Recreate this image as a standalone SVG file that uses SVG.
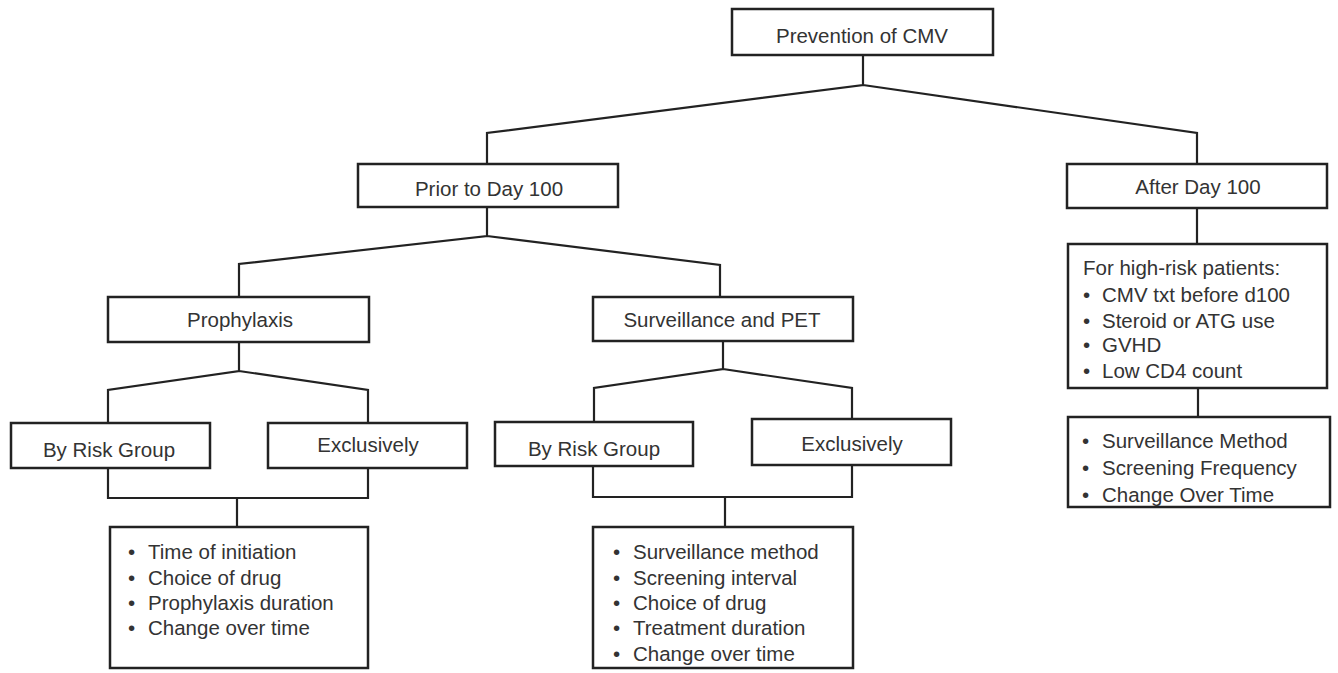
<svg xmlns="http://www.w3.org/2000/svg" width="1338" height="673" viewBox="0 0 1338 673">
<style>
.box{fill:#fff;stroke:#222;stroke-width:2.5}
.t{font-family:"Liberation Sans",Arial,sans-serif;font-size:20.5px;fill:#333}
.c{text-anchor:middle}
.ln{fill:none;stroke:#222;stroke-width:2.2;stroke-linejoin:miter}
</style>
<rect width="1338" height="673" fill="#fff"/>
<g id="connectors">
<path class="ln" d="M863 55 V85 L487 133 V164 M863 85 L1197 133 V164"/>
<path class="ln" d="M487 207 V236 L239 264 V297 M487 236 L720 265 V297"/>
<path class="ln" d="M239 342 V371 L108 390 V423 M239 371 L368 390 V423"/>
<path class="ln" d="M723 341 V369 L594 388 V422 M723 369 L852 388 V419"/>
<path class="ln" d="M108 468 V498 H368 V468 M237 498 V527"/>
<path class="ln" d="M593 466 V497 H852 V465 M725 497 V527"/>
<path class="ln" d="M1197 208 V244 M1198 388 V417"/>
</g>
<g id="n-prevention">
<rect class="box" x="732" y="9" width="261" height="46"/>
<text class="t c" x="862" y="43">Prevention of CMV</text>
</g>
<g id="n-prior">
<rect class="box" x="358" y="164" width="260" height="43"/>
<text class="t c" x="489" y="196">Prior to Day 100</text>
</g>
<g id="n-after">
<rect class="box" x="1067" y="164" width="260" height="44"/>
<text class="t c" x="1198" y="194">After Day 100</text>
</g>
<g id="n-prophylaxis">
<rect class="box" x="108" y="297" width="261" height="45"/>
<text class="t c" x="240" y="327">Prophylaxis</text>
</g>
<g id="n-surveillance">
<rect class="box" x="593" y="297" width="260" height="44"/>
<text class="t c" x="722" y="327">Surveillance and PET</text>
</g>
<g id="n-brg-left">
<rect class="box" x="11" y="423" width="199" height="45"/>
<text class="t c" x="109" y="457">By Risk Group</text>
</g>
<g id="n-excl-left">
<rect class="box" x="268" y="423" width="199" height="45"/>
<text class="t c" x="368" y="452">Exclusively</text>
</g>
<g id="n-brg-mid">
<rect class="box" x="495" y="422" width="198" height="44"/>
<text class="t c" x="594" y="456">By Risk Group</text>
</g>
<g id="n-excl-mid">
<rect class="box" x="752" y="419" width="199" height="46"/>
<text class="t c" x="852" y="451">Exclusively</text>
</g>
<g id="n-proph-details">
<rect class="box" x="110" y="527" width="258" height="141"/>
<text class="t"><tspan x="128" y="559">•</tspan><tspan x="148" y="559">Time of initiation</tspan><tspan x="128" y="585">•</tspan><tspan x="148" y="585">Choice of drug</tspan><tspan x="128" y="610">•</tspan><tspan x="148" y="610">Prophylaxis duration</tspan><tspan x="128" y="635">•</tspan><tspan x="148" y="635">Change over time</tspan></text>
</g>
<g id="n-surv-details">
<rect class="box" x="593" y="527" width="260" height="141"/>
<text class="t"><tspan x="613" y="559">•</tspan><tspan x="633" y="559">Surveillance method</tspan><tspan x="613" y="585">•</tspan><tspan x="633" y="585">Screening interval</tspan><tspan x="613" y="610">•</tspan><tspan x="633" y="610">Choice of drug</tspan><tspan x="613" y="635">•</tspan><tspan x="633" y="635">Treatment duration</tspan><tspan x="613" y="661">•</tspan><tspan x="633" y="661">Change over time</tspan></text>
</g>
<g id="n-highrisk">
<rect class="box" x="1068" y="244" width="259" height="144"/>
<text class="t"><tspan x="1083" y="275">For high-risk patients:</tspan><tspan x="1083" y="302">•</tspan><tspan x="1102" y="302">CMV txt before d100</tspan><tspan x="1083" y="328">•</tspan><tspan x="1102" y="328">Steroid or ATG use</tspan><tspan x="1083" y="352">•</tspan><tspan x="1102" y="352">GVHD</tspan><tspan x="1083" y="378">•</tspan><tspan x="1102" y="378">Low CD4 count</tspan></text>
</g>
<g id="n-after-details">
<rect class="box" x="1068" y="417" width="262" height="90"/>
<text class="t"><tspan x="1082" y="448">•</tspan><tspan x="1102" y="448">Surveillance Method</tspan><tspan x="1082" y="475">•</tspan><tspan x="1102" y="475">Screening Frequency</tspan><tspan x="1082" y="502">•</tspan><tspan x="1102" y="502">Change Over Time</tspan></text>
</g>
</svg>
